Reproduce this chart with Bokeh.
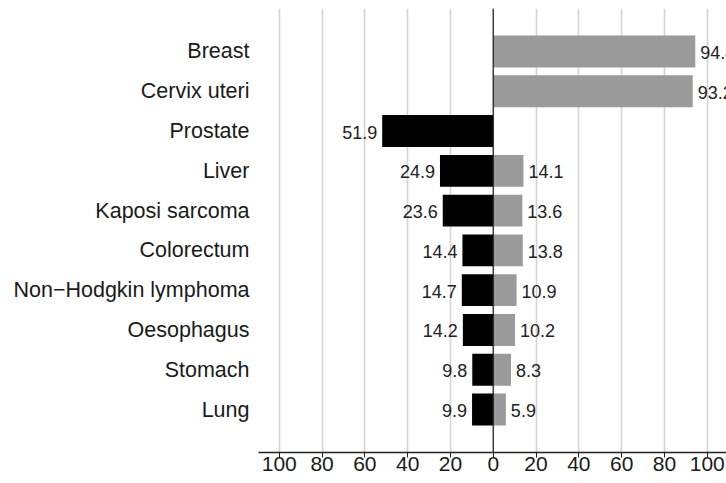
from bokeh.plotting import figure
from bokeh.models import ColumnDataSource, FixedTicker, Range1d, Span, CustomJSTickFormatter
from bokeh.embed import file_html
from bokeh.resources import INLINE
from bokeh.core.properties import value

categories = ["Breast", "Cervix uteri", "Prostate", "Liver", "Kaposi sarcoma",
              "Colorectum", "Non\u2212Hodgkin lymphoma", "Oesophagus", "Stomach", "Lung"]
male = [None, None, 51.9, 24.9, 23.6, 14.4, 14.7, 14.2, 9.8, 9.9]
female = [94.4, 93.2, None, 14.1, 13.6, 13.8, 10.9, 10.2, 8.3, 5.9]
x_ticks = [-100, -80, -60, -40, -20, 0, 20, 40, 60, 80, 100]

n = len(categories)
ypos = list(range(n, 0, -1))

m_idx = [i for i, v in enumerate(male) if v is not None]
f_idx = [i for i, v in enumerate(female) if v is not None]

msrc = ColumnDataSource(dict(
    y=[ypos[i] for i in m_idx],
    left=[-male[i] for i in m_idx],
    right=[0] * len(m_idx),
    lab=["%.1f" % male[i] for i in m_idx],
))
fsrc = ColumnDataSource(dict(
    y=[ypos[i] for i in f_idx],
    left=[0] * len(f_idx),
    right=[female[i] for i in f_idx],
    lab=["%.1f" % female[i] for i in f_idx],
))

FONT = "Liberation Sans"

p = figure(width=726, height=483, output_backend="svg", toolbar_location=None,
           x_range=Range1d(-109.7, 109.0), y_range=Range1d(-0.08, 11.08),
           min_border_left=258, min_border_right=0, min_border_top=8, min_border_bottom=31)
p.outline_line_color = None
p.background_fill_color = "white"

# grid
p.ygrid.grid_line_color = None
p.xgrid.ticker = FixedTicker(ticks=[t for t in x_ticks if t != 0])
p.xgrid.grid_line_color = "#d4d4d4"
p.xgrid.grid_line_width = 1.6

# bars
p.hbar(y="y", left="left", right="right", height=0.8, source=msrc,
       fill_color="#000000", line_color=None)
p.hbar(y="y", left="left", right="right", height=0.8, source=fsrc,
       fill_color="#9a9a9a", line_color=None)

p.add_layout(Span(location=0, dimension="height", line_color="#222222", line_width=1.3))

# value labels
p.text(x="left", y="y", text="lab", source=msrc, text_align="right", text_baseline="middle",
       x_offset=-5, y_offset=1, text_font=value(FONT), text_font_size="18px", text_color="#222222")
p.text(x="right", y="y", text="lab", source=fsrc, text_align="left", text_baseline="middle",
       x_offset=5, y_offset=1, text_font=value(FONT), text_font_size="18px", text_color="#222222")

# x axis
xa = p.xaxis[0]
xa.ticker = FixedTicker(ticks=x_ticks)
xa.formatter = CustomJSTickFormatter(code="return Math.abs(tick).toString();")
xa.minor_tick_line_color = None
xa.major_tick_in = 0
xa.major_tick_out = 5
xa.major_tick_line_color = "#222222"
xa.axis_line_color = "#222222"
xa.axis_line_width = 1.3
xa.major_label_standoff = -1
xa.major_label_text_font = FONT
xa.major_label_text_font_size = "21px"
xa.major_label_text_color = "#1a1a1a"

# y axis (categories)
ya = p.yaxis[0]
ya.ticker = FixedTicker(ticks=ypos)
ya.major_label_overrides = {ypos[i]: categories[i] for i in range(n)}
ya.axis_line_color = None
ya.major_tick_line_color = None
ya.minor_tick_line_color = None
ya.major_tick_out = 0
ya.major_tick_in = 0
ya.major_label_standoff = 9
ya.major_label_text_font = FONT
ya.major_label_text_font_size = "21.5px"
ya.major_label_text_color = "#1a1a1a"

open("out.html", "w").write(file_html(p, INLINE))
